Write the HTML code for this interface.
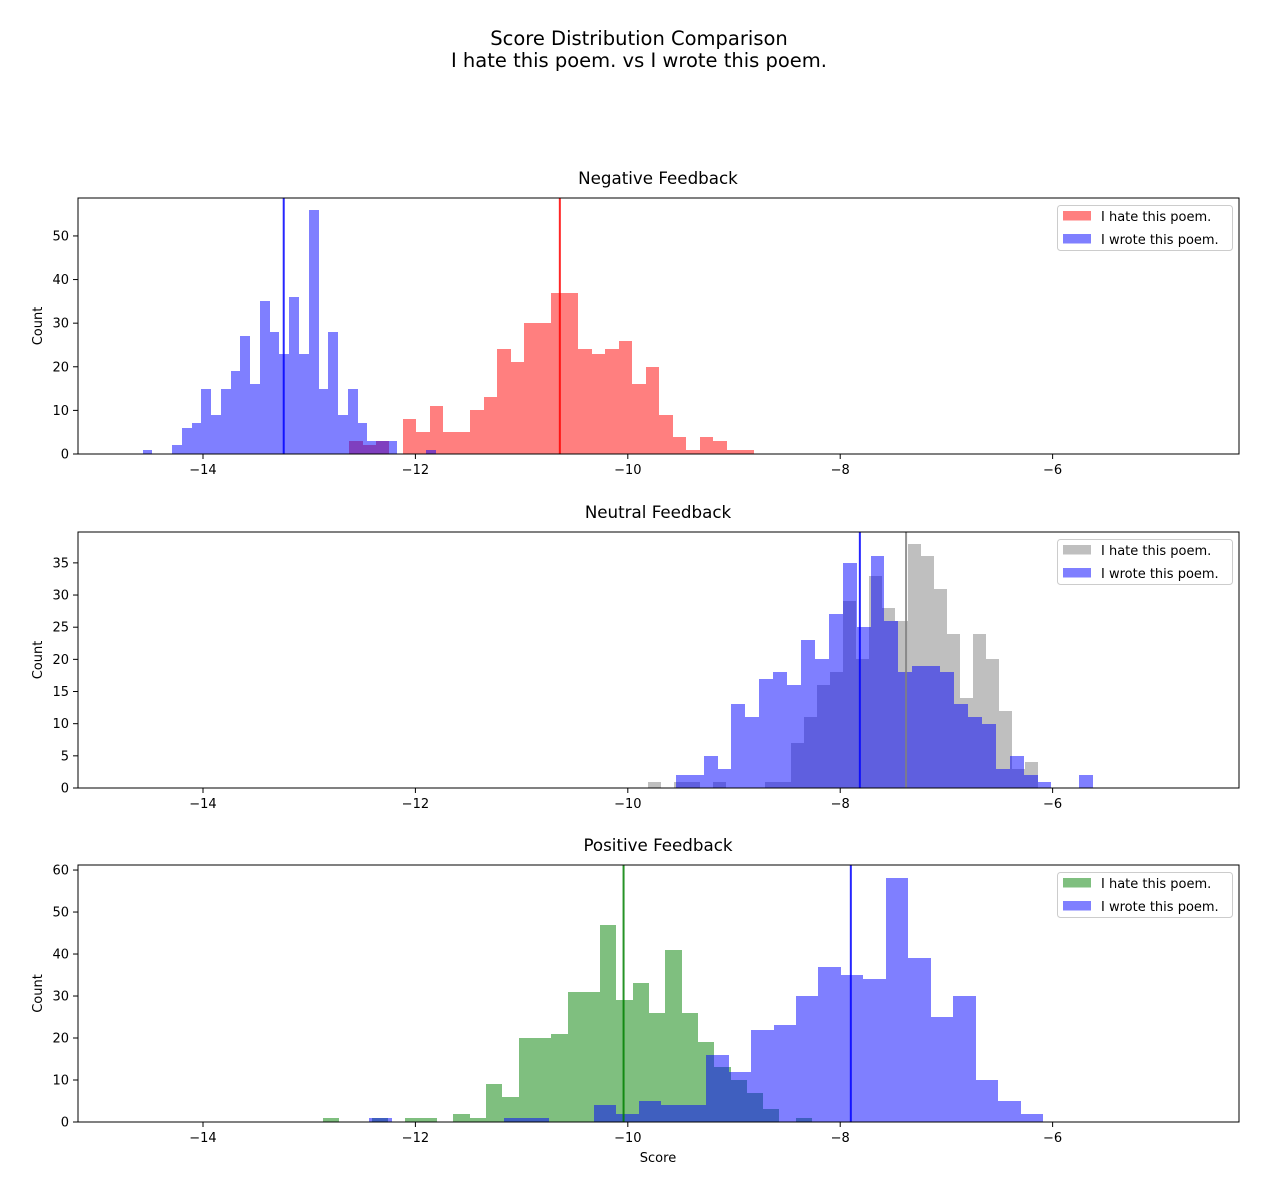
<!DOCTYPE html>
<html><head><meta charset="utf-8"><style>
body{margin:0;background:#fff;}
svg text{font-family:"DejaVu Sans","Liberation Sans",sans-serif;fill:#000;}
</style></head><body>
<svg id="chart" width="1269" height="1195" viewBox="0 0 1269 1195" xmlns="http://www.w3.org/2000/svg">
<rect width="1269" height="1195" fill="#fff"/>
<text x="639" y="45" font-size="19.5" text-anchor="middle">Score Distribution Comparison</text>
<text x="639" y="67" font-size="19.5" text-anchor="middle">I hate this poem. vs I wrote this poem.</text>
</svg>
<script>
// ---- data ----
const xTicks = [-14, -12, -10, -8, -6];
const negHateStart = -12.625, negHateWidth = 0.127;
const negHateCounts = [3,2,3,0,8,5,11,5,5,10,13,24,21,30,30,37,37,24,23,24,26,16,20,9,4,1,4,3,1,1];
const negWroteStart = -14.568, negWroteWidth = 0.092;
const negWroteCounts = [1,0,0,2,6,7,15,9,15,19,27,16,35,28,23,36,23,56,15,28,9,15,7,3,3,3,0,0,0,1];
const negMeans = [-10.64, -13.24];
const negYTicks = [0,10,20,30,40,50];

const neuHateStart = -9.812, neuHateWidth = 0.1224;
const neuHateCounts = [1,0,1,1,0,1,0,0,0,1,1,7,11,16,18,29,20,33,28,26,38,36,31,24,14,24,20,12,3,4];
const neuWroteStart = -9.548, neuWroteWidth = 0.131;
const neuWroteCounts = [2,2,5,3,13,11,17,18,16,23,20,27,35,25,36,26,18,19,19,18,13,11,10,3,5,2,1,0,0,2];
const neuMeans = [-7.38, -7.815];
const neuYTicks = [0,5,10,15,20,25,30,35];

const posHateStart = -12.870, posHateWidth = 0.1535;
const posHateCounts = [1,0,0,1,0,1,1,0,2,1,9,6,20,20,21,31,31,47,29,33,26,41,26,19,13,10,7,3,0,1];
const posWroteStart = -12.433, posWroteWidth = 0.2114;
const posWroteCounts = [1,0,0,0,0,0,1,1,0,0,4,2,5,4,4,16,12,22,23,30,37,35,34,58,39,25,30,10,5,2];
const posMeans = [-10.04, -7.90];
const posYTicks = [0,10,20,30,40,50,60];

// ---- drawing ----
const NS = "http://www.w3.org/2000/svg";
const svg = document.getElementById('chart');
const X0 = 78, X1 = 1239, XMIN = -15.177, XMAX = -4.245;
function xs(v){ return X0 + (v - XMIN) / (XMAX - XMIN) * (X1 - X0); }
function mk(tag, attrs, parent){
  const e = document.createElementNS(NS, tag);
  for (const k in attrs) e.setAttribute(k, attrs[k]);
  (parent || svg).appendChild(e);
  return e;
}

function panel(key, title, top, bottom, ymax, yTicks, s1, c1, counts1, w1, start1, s2, c2, counts2, w2, start2, means, meanColors, isLast){
  const g = mk('g', {});
  
  
  function ys(v){ return bottom - v / ymax * (bottom - top); }
  const clip = mk('clipPath', {id: 'clip-' + key}, g);
  mk('rect', {x: X0, y: top, width: X1 - X0, height: bottom - top}, clip);
  const plot = mk('g', {'clip-path': 'url(#clip-' + key + ')'}, g);
  function bars(counts, start, width, color, series){
    const bg = mk('g', {'fill-opacity': 0.5, 'shape-rendering': 'crispEdges'}, plot);
    counts.forEach((c, i) => {
      if (c <= 0) return;
      const a = Math.round(xs(start + i * width)), b = Math.round(xs(start + (i + 1) * width));
      const yt = Math.round(ys(c));
      const r = mk('rect', {x: a, y: yt, width: b - a, height: bottom - yt, fill: color}, bg);
      
      
    });
  }
  bars(counts1, start1, w1, c1, 'hate');
  bars(counts2, start2, w2, c2, 'wrote');
  means.forEach((m, i) => {
    const l = mk('line', {x1: xs(m), x2: xs(m), y1: top, y2: bottom, stroke: meanColors[i], 'stroke-width': 2, 'stroke-opacity': 0.85}, plot);
    
    
  });
  const frame = mk('rect', {x: X0, y: top, width: X1 - X0, height: bottom - top, fill: 'none', stroke: '#000', 'stroke-width': 1}, g);
  
  
  xTicks.forEach(t => {
    const x = xs(t);
    mk('line', {x1: x, x2: x, y1: bottom, y2: bottom + 5, stroke: '#000'}, g);
    const tx = mk('text', {x: x, y: bottom + 20, 'font-size': 13, 'text-anchor': 'middle'}, g);
    tx.textContent = '\u2212' + Math.abs(t);
    
    
  });
  yTicks.forEach(t => {
    const y = ys(t);
    mk('line', {x1: X0 - 5, x2: X0, y1: y, y2: y, stroke: '#000'}, g);
    const tx = mk('text', {x: X0 - 9, y: y + 4.5, 'font-size': 13, 'text-anchor': 'end'}, g);
    tx.textContent = t;
    
    
  });
  const tt = mk('text', {x: 658, y: top - 14, 'font-size': 16.7, 'text-anchor': 'middle'}, g);
  tt.textContent = title;
  
  
  const yl = mk('text', {x: 0, y: 0, 'font-size': 13, 'text-anchor': 'middle', transform: 'translate(42,' + ((top + bottom) / 2) + ') rotate(-90)'}, g);
  yl.textContent = 'Count';
  
  
  const lg = mk('g', {}, g);
  
  
  mk('rect', {x: 1057.5, y: top + 7.5, width: 175, height: 45, rx: 3, fill: '#fff', 'fill-opacity': 0.8, stroke: '#ccc'}, lg);
  [[c1, 'I hate this poem.'], [c2, 'I wrote this poem.']].forEach((e, i) => {
    const p = mk('rect', {x: 1063, y: top + 13 + i * 23, width: 28, height: 9.5, fill: e[0], 'fill-opacity': 0.5}, lg);
    
    
    const t = mk('text', {x: 1101, y: top + 23 + i * 23, 'font-size': 13}, lg);
    t.textContent = e[1];
    
    
  });
  if (isLast){
    const xl = mk('text', {x: 658, y: bottom + 40, 'font-size': 13, 'text-anchor': 'middle'}, g);
    xl.textContent = 'Score';
    
    
  }
}

panel('negative', 'Negative Feedback', 198, 454, 58.7, negYTicks,
  'hate', '#ff0000', negHateCounts, negHateWidth, negHateStart,
  'wrote', '#0000ff', negWroteCounts, negWroteWidth, negWroteStart,
  negMeans, ['#ff0000', '#0000ff'], false);
panel('neutral', 'Neutral Feedback', 532, 788, 39.8, neuYTicks,
  'hate', '#808080', neuHateCounts, neuHateWidth, neuHateStart,
  'wrote', '#0000ff', neuWroteCounts, neuWroteWidth, neuWroteStart,
  neuMeans, ['#808080', '#0000ff'], false);
panel('positive', 'Positive Feedback', 865, 1122, 61.2, posYTicks,
  'hate', '#008000', posHateCounts, posHateWidth, posHateStart,
  'wrote', '#0000ff', posWroteCounts, posWroteWidth, posWroteStart,
  posMeans, ['#008000', '#0000ff'], true);
</script>
</body></html>
